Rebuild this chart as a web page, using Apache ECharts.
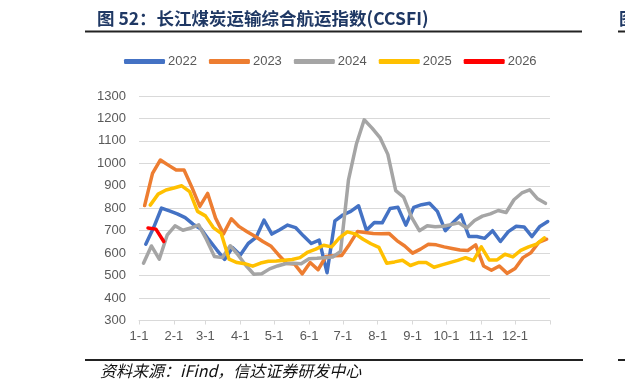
<!DOCTYPE html>
<html>
<head>
<meta charset="utf-8">
<script src="https://cdn.jsdelivr.net/npm/echarts@6/dist/echarts.min.js"></script>
<style>
html,body{margin:0;padding:0;background:#fff;}
#c{width:625px;height:390px;}
</style>
</head>
<body>
<div id="c"></div>
<script>
// Day-of-year (0 = Jan 1) for each weekly observation, and index values
var days2022 = [6,13,20,27,34,41,48,55,62,69,76,83,90,97,104,111,118,125,132,139,146,153,160,167,174,181,188,195,202,209,216,223,230,237,244,251,258,265,272,279,286,293,300,307,314,321,328,335,342,349,356,363];
var vals2022 = [640,714,801,788,775,758,729,708,660,615,572,625,592,643,670,747,685,704,725,714,677,643,658,513,744,770,786,811,702,737,735,799,804,725,804,816,822,786,700,737,771,674,674,666,700,652,696,720,717,674,719,741];

var days2023 = [5,12,19,26,33,40,47,54,61,68,75,82,89,96,103,110,117,124,131,138,145,152,159,166,173,180,187,194,201,208,215,222,229,236,243,250,257,264,271,278,285,292,299,306,313,320,327,334,341,348,355,362];
var vals2023 = [812,955,1015,992,970,970,893,808,866,756,686,753,718,695,675,652,632,592,555,552,508,558,526,585,588,590,640,696,692,688,686,688,656,632,600,618,640,637,628,621,614,612,637,543,524,543,510,532,580,602,648,662];

var days2024 = [4,11,18,25,32,39,46,53,60,67,74,81,88,95,102,109,116,123,130,137,144,151,158,165,172,179,186,193,200,207,214,221,228,235,242,249,256,263,270,277,284,291,298,305,312,319,326,333,340,347,354,361];
var vals2024 = [555,632,573,680,722,702,712,726,660,585,580,633,592,545,506,508,530,543,553,555,553,575,577,580,583,608,925,1085,1194,1157,1115,1040,878,850,760,700,722,718,720,727,735,712,745,765,775,790,781,838,868,882,842,822];

var days2025 = [10,17,24,31,38,45,52,59,66,73,80,87,94,101,108,115,122,129,136,143,150,157,164,171,178,185,192,199,206,213,220,227,234,241,248,255,262,269,276,283,290,297,304,311,318,325,332,339,346,353,360];
var vals2025 = [814,863,881,890,900,874,786,766,714,688,573,558,553,542,556,564,565,568,572,580,605,618,635,628,668,695,686,662,642,626,555,561,568,545,558,558,537,548,558,568,580,567,628,570,570,595,583,612,628,640,668];

var days2026 = [8,15,22];
var vals2026 = [712,707,652];

var seriesNames = ['2022','2023','2024','2025','2026'];
var seriesColors = ['#4472C4','#ED7D31','#A5A5A5','#FFC000','#FF0000'];
var monthStartDays = [0,31,59,90,120,151,181,212,243,273,304,334,365];
var monthLabels = ['1-1','2-1','3-1','4-1','5-1','6-1','7-1','8-1','9-1','10-1','11-1','12-1'];
var yMin = 300, yMax = 1300, yStep = 100;

var allDays = [days2022,days2023,days2024,days2025,days2026];
var allVals = [vals2022,vals2023,vals2024,vals2025,vals2026];

function pairs(d, v){ return d.map(function(x,i){ return [x, v[i]]; }); }

var chart = echarts.init(document.getElementById('c'), null, {renderer:'canvas'});
var font = '"Liberation Sans", Arial, "Noto Sans CJK SC", sans-serif';

var series = seriesNames.map(function(n,i){
  return {
    name: n, type: 'line', data: pairs(allDays[i], allVals[i]),
    showSymbol: false, symbol: 'none', smooth: false,
    lineStyle: {width: 3.5, color: seriesColors[i], cap: 'round', join: 'round'},
    itemStyle: {color: seriesColors[i]},
    z: 2 + i, animation: false
  };
});

chart.setOption({
  animation: false,
  backgroundColor: '#fff',
  textStyle: {fontFamily: font},
  grid: {left: 139, right: 75, top: 96, bottom: 69.5, containLabel: false},
  legend: {
    data: seriesNames, left: 119, top: 50, icon: 'roundRect',
    itemWidth: 41, itemHeight: 5, itemGap: 12,
    textStyle: {fontSize: 13, color: '#595959', fontFamily: font, padding: [0,0,0,-2]}
  },
  xAxis: {
    type: 'value', min: 0, max: 365,
    axisLine: {show: true, lineStyle: {color: '#D9D9D9', width: 1}},
    axisTick: {show: true, length: 4, lineStyle: {color: '#D9D9D9'}, customValues: monthStartDays},
    axisLabel: {
      customValues: monthStartDays.slice(0, 12),
      fontSize: 13, color: '#595959', margin: 9, fontFamily: font,
      formatter: function(v){ var k = monthStartDays.indexOf(Math.round(v)); return k >= 0 && k < 12 ? monthLabels[k] : ''; }
    },
    splitLine: {show: false}
  },
  yAxis: {
    type: 'value', min: yMin, max: yMax, interval: yStep,
    axisLine: {show: false}, axisTick: {show: false},
    axisLabel: {fontSize: 13, color: '#595959', margin: 13, fontFamily: font,
      formatter: function(v){ return String(v); }},
    splitLine: {lineStyle: {color: '#D9D9D9', width: 1}}
  },
  graphic: [
    {type: 'text', left: 97, top: 10, style: {text: '图 52：长江煤炭运输综合航运指数(CCSFI)', fontSize: 17.5, fontWeight: 'bold', fill: '#1F3864', fontFamily: '"Noto Sans CJK SC", "Liberation Sans", sans-serif'}},
    {type: 'rect', shape: {x: 85, y: 30.5, width: 497, height: 2}, style: {fill: '#222'}},
    {type: 'rect', shape: {x: 618, y: 30.5, width: 7, height: 2}, style: {fill: '#222'}},
    {type: 'text', left: 619, top: 10, style: {text: '图', fontSize: 17.5, fontWeight: 'bold', fill: '#1F3864', fontFamily: '"Noto Sans CJK SC", sans-serif'}},
    {type: 'rect', shape: {x: 85, y: 359, width: 498, height: 2}, style: {fill: '#222'}},
    {type: 'rect', shape: {x: 618, y: 359, width: 7, height: 2}, style: {fill: '#222'}},
    {type: 'text', left: 100, top: 363, style: {text: '资料来源：iFind，信达证券研发中心', fontSize: 16, fontStyle: 'italic', fill: '#111', fontFamily: '"Noto Sans CJK SC", "Liberation Sans", sans-serif'}}
  ],
  series: series
});
</script>
</body>
</html>
